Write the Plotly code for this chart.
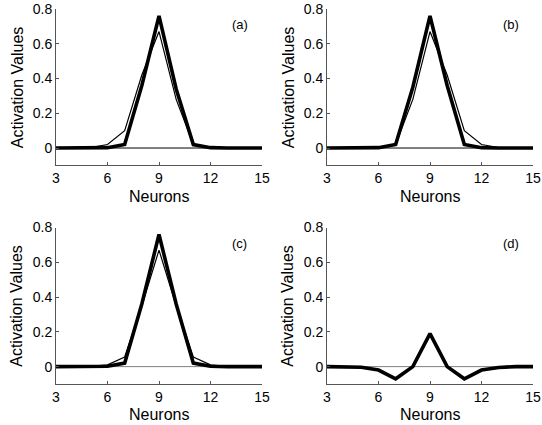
import plotly.graph_objects as go

neurons = [3, 4, 5, 6, 7, 8, 9, 10, 11, 12, 13, 14, 15]

# panel (a)
a_thin = [0, 0, 0.003, 0.02, 0.10, 0.42, 0.67, 0.28, 0.02, 0.003, 0, 0, 0]
a_thick = [0, 0, 0, 0.002, 0.02, 0.36, 0.76, 0.34, 0.02, 0.002, 0, 0, 0]
# panel (b)
b_thin = [0, 0, 0, 0.003, 0.02, 0.28, 0.67, 0.42, 0.10, 0.02, 0.003, 0, 0]
b_thick = [0, 0, 0, 0.002, 0.02, 0.35, 0.76, 0.36, 0.02, 0.002, 0, 0, 0]
# panel (c)
c_thin = [0, 0, 0.002, 0.01, 0.055, 0.35, 0.67, 0.35, 0.055, 0.01, 0.002, 0, 0]
c_thick = [0, 0, 0, 0.002, 0.02, 0.36, 0.76, 0.36, 0.02, 0.002, 0, 0, 0]
# panel (d)
d_thick = [0, 0, -0.004, -0.02, -0.07, 0.0, 0.19, 0.0, -0.07, -0.02, -0.005, 0, 0]

panel_labels = ["(a)", "(b)", "(c)", "(d)"]
x_ticks = [3, 6, 9, 12, 15]
y_ticks = [0, 0.2, 0.4, 0.6, 0.8]
y_tick_text = ["0", "0.2", "0.4", "0.6", "0.8"]

W, H = 542, 425
xdoms = [[56 / W, 262 / W], [327 / W, 533 / W]]
ydoms = [[1 - 165.4 / H, 1 - 9 / H], [1 - 384 / H, 1 - 227.5 / H]]
ytitle_x = [17 / W, 288 / W]
xtitle_y = [1 - 196 / H, 1 - 414 / H]

panels = [
    (a_thin, a_thick, "black"),
    (b_thin, b_thick, "black"),
    (c_thin, c_thick, "#808080"),
    (None, d_thick, "#808080"),
]

fig = go.Figure()
fam = "Liberation Sans, Arial, sans-serif"
tickfont = dict(family=fam, size=14, color="black")
titlefont = dict(family=fam, size=16, color="black")

for i, (thin, thick, zc) in enumerate(panels):
    n = i + 1
    xa = "x" if n == 1 else f"x{n}"
    ya = "y" if n == 1 else f"y{n}"
    row, col = divmod(i, 2)
    # zero line
    fig.add_trace(go.Scatter(x=[neurons[0], neurons[-1]], y=[0, 0], mode="lines",
                             line=dict(color=zc, width=1), xaxis=xa, yaxis=ya,
                             showlegend=False, hoverinfo="skip"))
    if thin is not None:
        fig.add_trace(go.Scatter(x=neurons, y=thin, mode="lines",
                                 line=dict(color="black", width=1.2),
                                 xaxis=xa, yaxis=ya, showlegend=False))
    fig.add_trace(go.Scatter(x=neurons, y=thick, mode="lines",
                             line=dict(color="black", width=3.6),
                             xaxis=xa, yaxis=ya, showlegend=False))
    axcommon = dict(showline=True, linecolor="#555555", linewidth=1, ticks="inside",
                    ticklen=3, tickcolor="#555555", showgrid=False, zeroline=False,
                    tickfont=tickfont, mirror=False, automargin=False)
    fig.layout[f"xaxis{'' if n == 1 else n}"] = dict(
        domain=xdoms[col], range=[3, 15], tickvals=x_ticks, anchor=ya, **axcommon)
    fig.layout[f"yaxis{'' if n == 1 else n}"] = dict(
        domain=ydoms[row], range=[-0.1, 0.8], tickvals=y_ticks, ticktext=y_tick_text,
        anchor=xa, **axcommon)
    fig.add_annotation(x=ytitle_x[col], y=(ydoms[row][0] + ydoms[row][1]) / 2,
                       xref="paper", yref="paper", text="Activation Values",
                       textangle=-90, showarrow=False, font=titlefont,
                       xanchor="center", yanchor="middle")
    fig.add_annotation(x=(xdoms[col][0] + xdoms[col][1]) / 2, y=xtitle_y[row],
                       xref="paper", yref="paper", text="Neurons",
                       showarrow=False, font=titlefont,
                       xanchor="center", yanchor="middle")
    fig.add_annotation(x=13.7, y=0.71, xref=xa, yref=ya, text=panel_labels[i],
                       showarrow=False, font=dict(family=fam, size=13, color="black"))

fig.update_layout(width=W, height=H, margin=dict(l=0, r=0, t=0, b=0),
                  plot_bgcolor="white", paper_bgcolor="white")
fig.write_html("out.html", config={"displayModeBar": False},
               post_script="document.body.style.margin='0';document.body.style.overflow='hidden';")
